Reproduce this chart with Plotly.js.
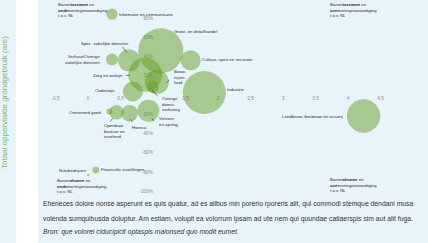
<!DOCTYPE html>
<html><head><meta charset="utf-8">
<script src="https://cdn.plot.ly/plotly-3.0.1.min.js"></script>
<style>
html,body{margin:0;padding:0;width:428px;height:243px;overflow:hidden;background:#fff;}
#bgL{position:absolute;left:0;top:0;width:16px;height:243px;background:#e8f4fb;}
#bgR{position:absolute;left:38px;top:0;width:390px;height:243px;background:#e8f4fb;}
#chart{position:absolute;left:0;top:-6px;width:428px;height:249px;}
</style></head><body>
<div id="bgL"></div><div id="bgR"></div><div id="chart"></div>
<script>
// ---- data ----
const sectors = ['Informatie en communicatie','Groot- en detailhandel','Cultuur, sport en recreatie','Spec. zakelijke diensten','Verhuur/Overige zakelijke diensten','Zorg en welzijn','Bouwnijverheid','Onderwijs','Overige dienstverlening','Industrie','Landbouw, bosbouw en visserij','Onroerend goed','Openbaar bestuur en overheid','Horeca','Vervoer en opslag','Financiële instellingen','Nutsbedrijven'];
const locationQuotient = [0.37,1.12,1.58,0.63,0.37,0.88,1.06,0.69,1.00,1.79,4.24,0.33,0.44,0.64,0.93,0.12,0.005];
const jobGrowth = [0.84,0.46,0.36,0.36,0.37,0.21,0.135,0.036,0.083,0.026,-0.218,-0.171,-0.18,-0.19,-0.163,-0.78,-0.83];
const landUse = [32,506,100,121,36,289,144,100,36,462,279,9,53,69,121,12,1.5];
const labelText = ['Informatie en communicatie','Groot- en detailhandel','Cultuur, sport en recreatie','Spec. zakelijke diensten','Verhuur/Overige<br>zakelijke diensten','Zorg en welzijn','Bouw-<br>nijver-<br>heid','Onderwijs','Overige<br>dienst-<br>verlening','Industrie','Landbouw, bosbouw en visserij','Onroerend goed','Openbaar<br>bestuur en<br>overheid','Horeca','Vervoer<br>en opslag','Financiële instellingen','Nutsbedrijven'];
const xTickVals = [-0.5,0,0.5,1.5,2,2.5,3,3.5,4,4.5];
const xTickText = ['-0,5','0','0,5','1,5','2','2,5','3','3,5','4','4,5'];
const yTickVals = [-1,-0.8,-0.6,-0.4,-0.2,0.2,0.4,0.6,0.8,1];
const yTickText = ['-100%','-80%','-60%','-40%','-20%','20%','40%','60%','80%','100%'];
const quadText = ['Banen<b>toename</b> en<br><b>onder</b>vertegenwoordiging<br>t.o.v. NL','Banen<b>toename</b> en<br><b>over</b>vertegenwoordiging<br>t.o.v. NL','Banen<b>afname</b> en<br><b>onder</b>vertegenwoordiging<br>t.o.v. NL','Banen<b>afname</b> en<br><b>over</b>vertegenwoordiging<br>t.o.v. NL'];
const yTitle = 'Totaal oppervlakte grondgebruik (are)';
const bodyText = ['Eheneces dolore nonse asperunt es quis quatur, ad es alibus min porerio rporeris alit, qui commodi stemque dendani musa','volenda sumquibusda doluptur. Am estiam, volupit ea volorrum ipsam ad ute nem qui quundae catiaerspis sim aut alit fuga.','<i>Bron: que volorei ciducipicit optaspis maionsed quo modit eumet.</i>'];

// ---- layout helpers ----
const PLOT = {left:38, top:-6, width:390, height:206};
const pxX = p => (p - PLOT.left) / PLOT.width;
const pxY = p => (PLOT.top + PLOT.height - p) / PLOT.height;
const xRange = [-0.769, 5.231];
const yRange = [-1.0909, 1.0494];
const maxDiam = 45;

// label placement: [xanchor, xshift, yshift]
const labelPos = [
 ['left',6,0],['left',12,19],['left',10.5,1],['center',-23.5,17],['right',-10.7,-0.5],
 ['right',-21,-0.5],['left',16,5],['right',-16.7,1],['left',8,-16.5],['left',21.5,3.5],
 ['right',-19.3,-1],['right',-6.3,-1.2],['left',-13.7,-18.4],['left',1.4,-14],['left',10,-11.1],
 ['left',4.3,0.3],['right',-1,4]
];
// leader lines: [index, headXshift, headYshift, ax, ay]
const leaders = [
 [3,-2,8,-5,-6],[5,-15,-0.5,-5,0],[6,9.7,-0.7,3.3,-3.4],[8,-1,-3,6,6.7],
 [12,-4,-6,-2.7,4],[13,0.7,-5.7,2.7,3.3],[14,3.4,-7.6,2.3,3.4]
];

const font = 'Liberation Sans, Arial, sans-serif';
const annotations = [];
sectors.forEach((s,i)=>{
  const p = labelPos[i];
  annotations.push({x:locationQuotient[i], y:jobGrowth[i], xref:'x', yref:'y', text:labelText[i],
    showarrow:false, xanchor:p[0], yanchor:'middle', xshift:p[1], yshift:p[2], align:p[0]==='right'?'right':'left',
    borderpad:0, font:{family:font, size:4.4, color:'#2b2b2b'}});
});
leaders.forEach(l=>{
  const i=l[0];
  annotations.push({x:locationQuotient[i], y:jobGrowth[i], xref:'x', yref:'y', text:'', showarrow:true,
    arrowhead:0, arrowwidth:0.6, arrowcolor:'#333', xshift:l[1], yshift:l[2], ax:l[3], ay:l[4], standoff:0, startstandoff:0, borderpad:0});
});
const quadPos = [[57,1.2],[329,1.2],[56,176.8],[329,175.6]];
quadText.forEach((t,i)=>{
  annotations.push({xref:'paper', yref:'paper', x:pxX(quadPos[i][0]), y:pxY(quadPos[i][1]), xanchor:'left', yanchor:'top',
    text:t, showarrow:false, align:'left', borderpad:0, font:{family:font, size:4.3, color:'#2b2b2b'}});
});
annotations.push({xref:'paper', yref:'paper', x:pxX(4), y:pxY(103), xanchor:'center', yanchor:'middle', textangle:-90,
  text:yTitle, showarrow:false, font:{family:font, size:8, color:'#7dba5c'}});
const bodyY = [204,219,232];
bodyText.forEach((t,i)=>{
  annotations.push({xref:'paper', yref:'paper', x:pxX(42), y:pxY(bodyY[i]), xanchor:'left', yanchor:'middle',
    text:t, showarrow:false, borderpad:0, font:{family:font, size:6.8, color:'#333'}});
});

const maxSize = Math.max(...landUse);
const trace = {
  type:'scatter', mode:'markers', x:locationQuotient, y:jobGrowth, text:sectors,
  marker:{size:landUse, sizemode:'area', sizeref:2*maxSize/(maxDiam*maxDiam), sizemin:1,
    color:'rgba(100,155,30,0.70)', line:{width:0}},
  cliponaxis:false, hoverinfo:'skip'
};
const layout = {
  width:428, height:249, margin:{l:38, r:0, t:0, b:43},
  paper_bgcolor:'rgba(0,0,0,0)', plot_bgcolor:'rgba(0,0,0,0)',
  showlegend:false, separators:',.',
  xaxis:{range:xRange, anchor:'free', position:pxY(94), showgrid:false, zeroline:false, showline:false, ticks:'',
    tickmode:'array', tickvals:xTickVals, ticktext:xTickText, tickfont:{family:font, size:4.8, color:'#8c8c8c'},
    layer:'below traces', automargin:false, fixedrange:true},
  yaxis:{range:yRange, anchor:'free', position:(1-xRange[0])/(xRange[1]-xRange[0]), showgrid:false, zeroline:false, showline:false, ticks:'',
    tickmode:'array', tickvals:yTickVals, ticktext:yTickText, tickfont:{family:font, size:4.8, color:'#8c8c8c'},
    layer:'below traces', automargin:false, fixedrange:true},
  annotations:annotations
};
Plotly.newPlot('chart',[trace],layout,{displayModeBar:false, staticPlot:true});
</script>
</body></html>
